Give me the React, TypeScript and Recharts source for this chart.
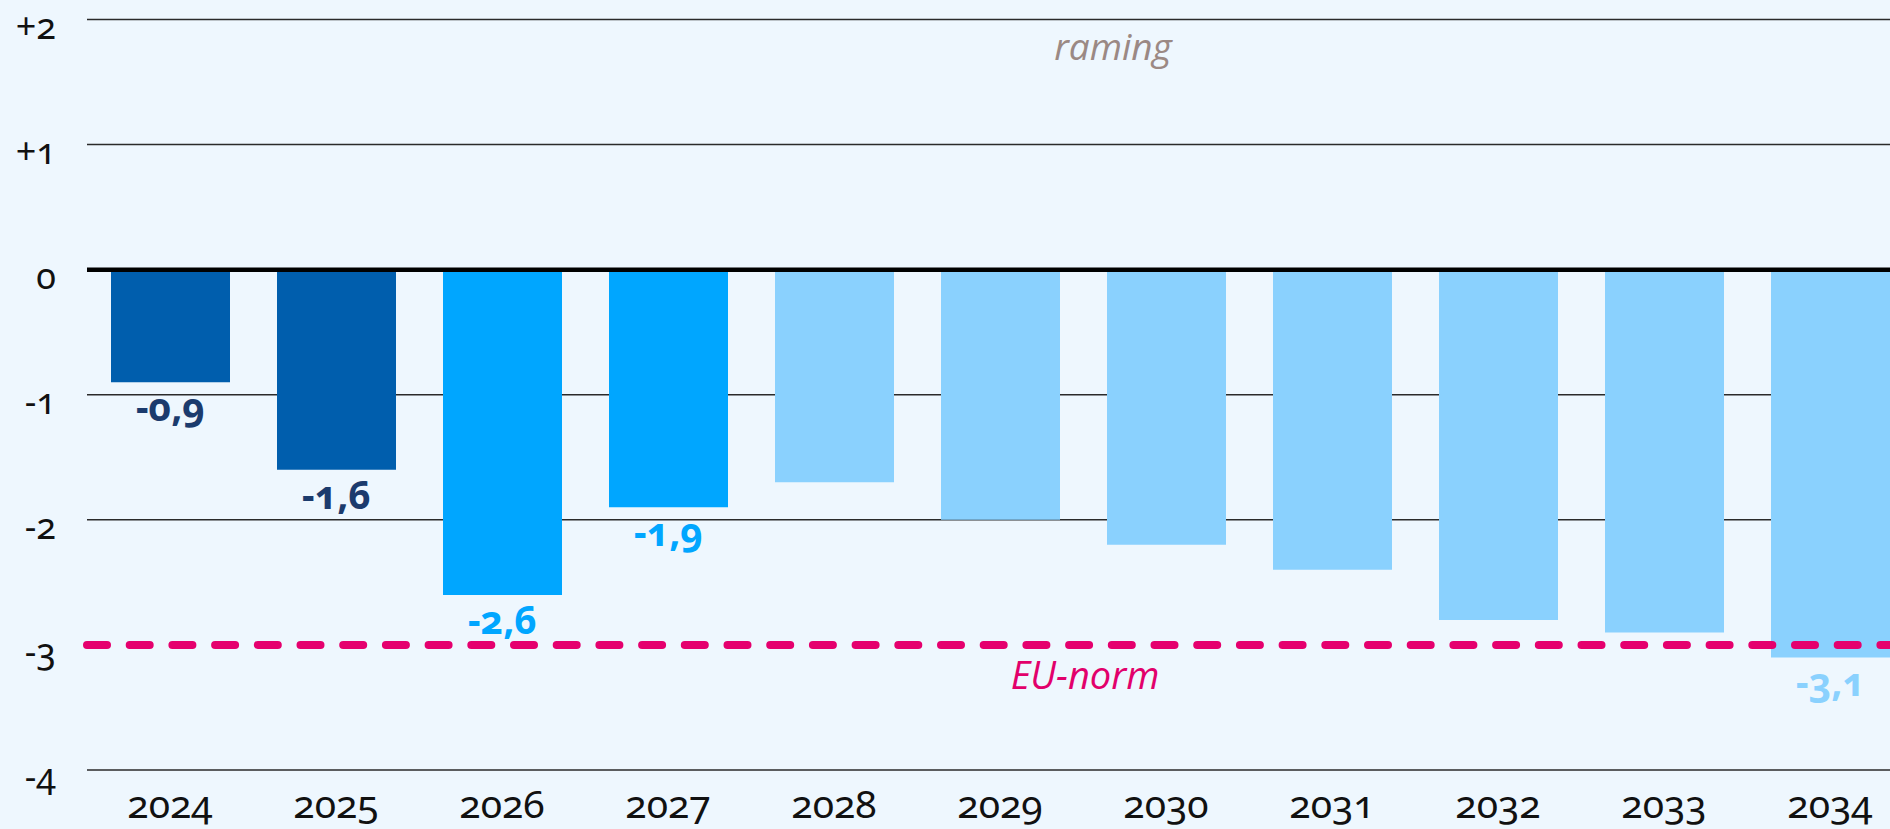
import React from "react";
import { BarChart, Bar, XAxis, YAxis, CartesianGrid, ReferenceLine, LabelList, Cell } from "recharts";

const years = ["2024", "2025", "2026", "2027", "2028", "2029", "2030", "2031", "2032", "2033", "2034"];
const saldo = [-0.9, -1.6, -2.6, -1.9, -1.7, -2.0, -2.2, -2.4, -2.8, -2.9, -3.1];
const barColors = ["#005EAD", "#005EAD", "#00A6FF", "#00A6FF", "#8AD1FE", "#8AD1FE", "#8AD1FE", "#8AD1FE", "#8AD1FE", "#8AD1FE", "#8AD1FE"];
const labelColors = ["#1B3B6D", "#1B3B6D", "#00A6FF", "#00A6FF", null, null, null, null, null, null, "#8AD1FE"];
const yTicks = [-4, -3, -2, -1, 0, 1, 2];
const gridTicks = [-4, -2, -1, 1, 2];
const yMin = -4;
const yMax = 2;
const euNorm = -3;

const data = years.map((jaar, i) => ({ jaar, saldo: saldo[i] }));

const numFont = "'Noto Sans', sans-serif";
const onum = { fontFeatureSettings: '"onum"', fontVariantNumeric: "oldstyle-nums" } as React.CSSProperties;
const italicFont = "'Open Sans', sans-serif";

const fmt = (v: number) => (v > 0 ? "+" : "") + String(v).replace(".", ",");

// grid lines without the -3 line (the EU-norm dash sits there)
const gridY = ({ offset }: any) =>
  gridTicks.map((v) => offset.top + ((yMax - v) / (yMax - yMin)) * offset.height);

function YTick(props: any) {
  const { x, y, payload } = props;
  return (
    <text x={x} y={y + 19} textAnchor="end" fontFamily={numFont} fontSize={36} fill="#111" style={onum}>
      {fmt(payload.value)}
    </text>
  );
}

function XTick(props: any) {
  const { x, y, payload } = props;
  return (
    <text x={x} y={y + 48} textAnchor="middle" fontFamily={numFont} fontSize={39} fill="#111" style={onum}>
      {payload.value}
    </text>
  );
}

function ValueLabel(props: any) {
  const { x, y, width, height, index } = props;
  const color = labelColors[index];
  if (!color) return null;
  const bottom = Math.max(Number(y), Number(y) + Number(height));
  return (
    <text x={Number(x) + Number(width) / 2} y={bottom + 39} textAnchor="middle" fontFamily={numFont} fontWeight={700} fontSize={39} fill={color} style={onum}>
      {String(saldo[index]).replace(".", ",")}
    </text>
  );
}

function RamingLabel(props: any) {
  const { viewBox } = props;
  return (
    <text x={1113} y={viewBox.y + 40} textAnchor="middle" fontFamily={italicFont} fontStyle="italic" fontSize={37} fill="#9B8984">
      raming
    </text>
  );
}

function EuLabel(props: any) {
  const { viewBox } = props;
  return (
    <text x={1085} y={viewBox.y + 44} textAnchor="middle" fontFamily={italicFont} fontStyle="italic" fontSize={38} fill="#E2006B">
      EU-norm
    </text>
  );
}

export default function App() {
  return (
    <div style={{ position: "absolute", left: 0, top: 0, width: 1890, height: 829, overflow: "hidden", background: "#EEF7FE" }}>
      <BarChart width={1913} height={829} data={data} margin={{ top: 19.5, right: 0, bottom: 0, left: 0 }} barSize={119}>
        <CartesianGrid vertical={false} stroke="#2A2A2A" strokeWidth={1.5} horizontalCoordinatesGenerator={gridY} />
        <XAxis dataKey="jaar" height={59} axisLine={false} tickLine={false} tickSize={0} tickMargin={0} tick={<XTick />} interval={0} />
        <YAxis domain={[yMin, yMax]} ticks={yTicks} width={87} axisLine={false} tickLine={false} tickSize={0} tickMargin={31} tick={<YTick />} interval={0} />
        <ReferenceLine y={yMax} stroke="none" label={<RamingLabel />} />
        <Bar dataKey="saldo" isAnimationActive={false}>
          {data.map((d, i) => (
            <Cell key={d.jaar} fill={barColors[i]} />
          ))}
          <LabelList dataKey="saldo" content={<ValueLabel />} />
        </Bar>
        <ReferenceLine y={0} stroke="#000" strokeWidth={4.5} />
        <ReferenceLine y={euNorm} stroke="#E5006E" strokeWidth={8} strokeDasharray="20 22.7" strokeLinecap="round" label={<EuLabel />} />
      </BarChart>
    </div>
  );
}
